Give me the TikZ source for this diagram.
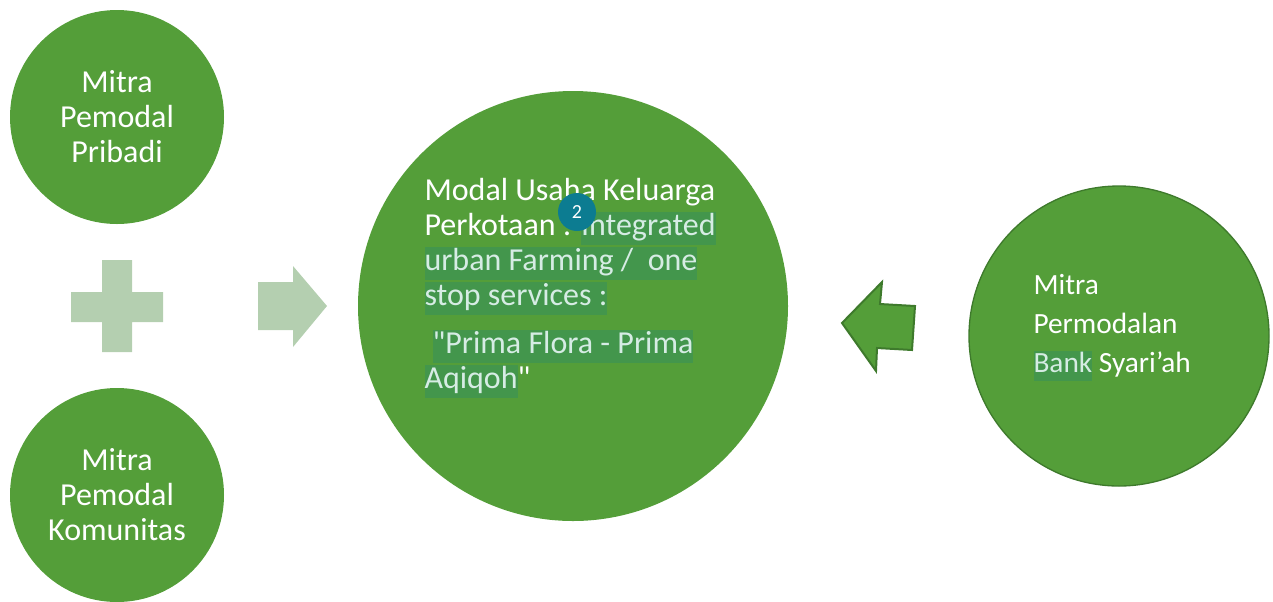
\documentclass[tikz,border=0pt]{standalone}
\usepackage{fontspec}
\setmainfont{Carlito}[Ligatures=TeXOff]
\definecolor{leafgreen}{RGB}{84,158,57}
\definecolor{leafdark}{RGB}{62,122,44}
\definecolor{palegreen}{RGB}{180,207,176}
\definecolor{markgreen}{RGB}{67,150,76}
\definecolor{marktext}{RGB}{214,236,228}
\definecolor{badgeteal}{RGB}{12,124,145}
\newcommand{\hl}[1]{{\setlength{\fboxsep}{0pt}\colorbox{markgreen}{\vrule height 0.72em depth 0.3em width 0pt\color{marktext}#1}}}

\tikzset{every picture/.style={line width=0.75pt}}
\tikzset{
  partner/.style={circle, fill=leafgreen, draw=none, text=white, align=center, inner sep=0pt,
    font=\fontsize{24}{26.25}\selectfont},
  plainlabel/.style={text=white, align=left, inner sep=0pt},
  pale/.style={fill=palegreen, draw=none}
}

\begin{document}
\begin{tikzpicture}[x=0.75pt,y=0.75pt,yscale=-1,xscale=1]
	\useasboundingbox (0,0) rectangle (1273,601);

	%Shape: Circle
	\node [partner, minimum size=160.5pt] (pribadi) at (117,117) {Mitra\\Pemodal\\Pribadi};
	%Shape: Circle
	\node [partner, minimum size=160.5pt] (komunitas) at (117,495) {Mitra\\Pemodal\\Komunitas};
	%Shape: Circle
	\node [partner, minimum size=322.5pt] (usaha) at (573,306) {};
	%Shape: Circle
	\node [partner, draw=leafdark, line width=1pt, minimum size=225pt] (bank) at (1119,336) {};

	%Shape: Plus
	\draw [pale] (102,260) -- (132,260) -- (132,292) -- (163,292) -- (163,322) -- (132,322) -- (132,352) -- (102,352) -- (102,322) -- (71,322) -- (71,292) -- (102,292) -- cycle ;
	%Shape: Right Arrow
	\draw [pale] (258,282) -- (293,282) -- (293,266) -- (327,306) -- (293,347) -- (293,330) -- (258,330) -- cycle ;
	%Shape: Left Arrow
	\draw [fill=leafgreen, draw=leafdark, line width=1.5] (842,323) -- (882,282) -- (880,304) -- (915,306) -- (912,350) -- (877,348) -- (876,371) -- cycle ;

	% Text Node
	\node [plainlabel, anchor=base west, font=\fontsize{24}{26.25}\selectfont] (usahatext) at (424,388)
	  {Modal Usaha Keluarga\\Perkotaan : \hl{Integrated}\\\hl{urban Farming /\ \ one}\\\hl{stop services :}\\[9.75pt]
	   \hspace*{0.25em}\hl{"Prima Flora - Prima}\\\hl{Aqiqoh}"};
	% Text Node
	\node [plainlabel, anchor=base west, font=\fontsize{22}{28.9}\selectfont] (banktext) at (1033,372)
	  {Mitra\\Permodalan\\\hl{Bank} Syari’ah};
	% Badge
	\node [circle, fill=badgeteal, text=white, inner sep=0pt, minimum size=28.5pt, font=\fontsize{15}{17}\selectfont] (badge) at (577,212) {2};

\end{tikzpicture}
\end{document}
